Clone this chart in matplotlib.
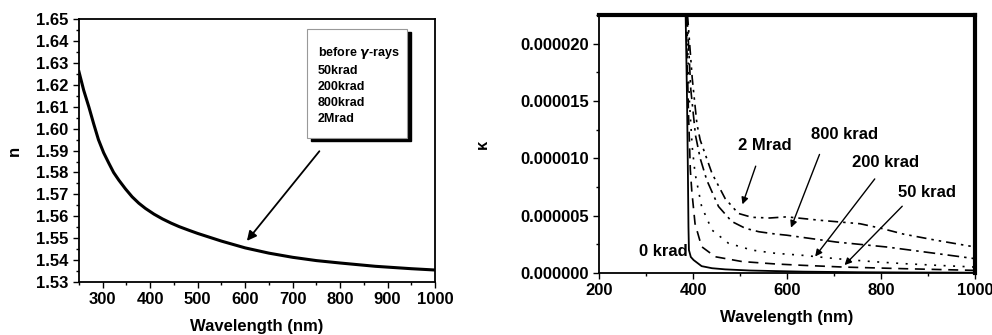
import matplotlib.pyplot as plt
from matplotlib.patches import Rectangle
from matplotlib.ticker import MultipleLocator, FormatStrFormatter

plt.rcParams["font.family"] = ["Liberation Sans", "DejaVu Sans"]
plt.rcParams["font.weight"] = "bold"

# left panel: refractive index n
n_wl = [250, 260, 271, 281, 291, 302, 313, 323, 334, 348, 362, 376, 390, 408,
        426, 444, 461, 482, 500, 550, 600, 650, 700, 750, 800, 874, 950, 1000]
n_val = [1.626, 1.6175, 1.6098, 1.6022, 1.5950, 1.589, 1.5842, 1.580, 1.5765,
         1.5725, 1.5689, 1.566, 1.5636, 1.5610, 1.5588, 1.5569, 1.5553, 1.5536,
         1.5522, 1.5487, 1.5456, 1.5432, 1.5413, 1.5398, 1.5387, 1.5372,
         1.5361, 1.5355]
legend_labels = ["before $\\gamma$-rays", "50krad", "200krad", "800krad", "2Mrad"]

# right panel: extinction coefficient kappa (in units of 1e-6)
k0_wl = [384, 387, 389, 390, 391, 395, 401, 418, 440, 468, 520, 575, 634, 750, 850, 1000]
k0_val = [22.5, 15.0, 8.0, 4.0, 2.0, 1.4, 1.13, 0.6, 0.42, 0.32, 0.22, 0.17, 0.12, 0.07, 0.05, 0.03]

k50_wl = [385, 390, 394, 397, 404, 418, 447, 504, 575, 634, 720, 847, 1000]
k50_val = [22.5, 14.0, 9.0, 7.2, 4.3, 2.3, 1.42, 1.0, 0.79, 0.67, 0.52, 0.38, 0.23]

k200_wl = [386, 392, 398, 404, 418, 440, 475, 525, 575, 634, 705, 780, 847, 920, 1000]
k200_val = [22.5, 15.0, 11.0, 8.7, 5.8, 3.75, 2.6, 2.0, 1.72, 1.54, 1.25, 1.0, 0.82, 0.67, 0.52]

k800_wl = [387, 395, 405, 415, 429, 454, 482, 511, 540, 575, 599, 705, 812, 918, 1000]
k800_val = [22.5, 16.0, 12.0, 10.0, 8.1, 5.8, 4.5, 3.9, 3.6, 3.4, 3.3, 2.7, 2.27, 1.7, 1.25]

k2m_wl = [388, 398, 408, 415, 440, 468, 496, 525, 563, 599, 670, 755, 800, 847, 918, 1000]
k2m_val = [22.5, 17.0, 13.0, 11.6, 8.7, 6.5, 5.2, 4.86, 4.8, 4.9, 4.6, 4.3, 3.9, 3.4, 2.85, 2.27]

fig = plt.figure(figsize=(9.92, 3.35), dpi=100)

# ---- left panel
ax1 = fig.add_axes([0.0796, 0.158, 0.359, 0.785])
ax1.plot(n_wl, n_val, color="black", lw=2.2)
ax1.set_xlim(250, 1000)
ax1.set_ylim(1.53, 1.65)
ax1.xaxis.set_major_locator(MultipleLocator(100))
ax1.xaxis.set_minor_locator(MultipleLocator(50))
ax1.yaxis.set_major_locator(MultipleLocator(0.01))
ax1.yaxis.set_minor_locator(MultipleLocator(0.005))
ax1.yaxis.set_major_formatter(FormatStrFormatter("%.2f"))
ax1.set_xlabel("Wavelength (nm)", fontsize=12, fontweight="bold", labelpad=8)
ax1.set_ylabel("n", fontsize=12, fontweight="bold", labelpad=10)

# legend box with black shadow
ax1.add_patch(Rectangle((0.651, 0.537), 0.28, 0.413, transform=ax1.transAxes,
                        facecolor="black", edgecolor="black", zorder=4))
ax1.add_patch(Rectangle((0.640, 0.548), 0.28, 0.413, transform=ax1.transAxes,
                        facecolor="white", edgecolor="#999999", lw=0.8, zorder=5))
ax1.text(0.671, 0.903, "\n".join(legend_labels), transform=ax1.transAxes,
         fontsize=9, fontweight="bold", va="top", ha="left",
         linespacing=1.45, zorder=6)
ax1.annotate("", xy=(600, 1.5478), xytext=(760, 1.5907),
             arrowprops=dict(arrowstyle="-|>", color="black", lw=1.3,
                             mutation_scale=14))

# ---- right panel
ax2 = fig.add_axes([0.604, 0.185, 0.379, 0.770])
ax2.plot(k0_wl, [v * 1e-6 for v in k0_val], color="black", lw=1.3, ls="-")
ax2.plot(k50_wl, [v * 1e-6 for v in k50_val], color="black", lw=1.2,
         ls=(0, (6, 4)))
ax2.plot(k200_wl, [v * 1e-6 for v in k200_val], color="black", lw=1.2,
         ls=(0, (1.2, 4.5)))
ax2.plot(k800_wl, [v * 1e-6 for v in k800_val], color="black", lw=1.2,
         ls=(0, (7, 3, 1.5, 3)))
ax2.plot(k2m_wl, [v * 1e-6 for v in k2m_val], color="black", lw=1.2,
         ls=(0, (6, 3, 1.5, 3, 1.5, 3)))
ax2.set_xlim(200, 1000)
ax2.set_ylim(0, 2.25e-5)
ax2.xaxis.set_major_locator(MultipleLocator(200))
ax2.xaxis.set_minor_locator(MultipleLocator(100))
ax2.yaxis.set_major_locator(MultipleLocator(5e-6))
ax2.yaxis.set_minor_locator(MultipleLocator(2.5e-6))
ax2.yaxis.set_major_formatter(FormatStrFormatter("%.6f"))
ax2.set_xlabel("Wavelength (nm)", fontsize=12, fontweight="bold", labelpad=8)
ax2.set_ylabel("\u03ba", fontsize=12, fontweight="bold", labelpad=22)
ax2.spines["top"].set_linewidth(3)
ax2.spines["right"].set_linewidth(3)

ann = dict(arrowstyle="-|>", color="black", lw=1.0, mutation_scale=10)
fs = 12
ax2.text(553, 11.1e-6, "2 Mrad", ha="center", va="center", fontsize=fs, fontweight="bold")
ax2.annotate("", xy=(503, 5.76e-6), xytext=(535, 9.55e-6), arrowprops=ann)
ax2.text(723, 12.1e-6, "800 krad", ha="center", va="center", fontsize=fs, fontweight="bold")
ax2.annotate("", xy=(606, 3.73e-6), xytext=(671, 10.57e-6), arrowprops=ann)
ax2.text(810, 9.64e-6, "200 krad", ha="center", va="center", fontsize=fs, fontweight="bold")
ax2.annotate("", xy=(656, 1.25e-6), xytext=(790, 8.4e-6), arrowprops=ann)
ax2.text(897, 6.99e-6, "50 krad", ha="center", va="center", fontsize=fs, fontweight="bold")
ax2.annotate("", xy=(718, 0.52e-6), xytext=(849, 6.0e-6), arrowprops=ann)
ax2.text(336, 1.92e-6, "0 krad", ha="center", va="center", fontsize=fs, fontweight="bold")

for ax in (ax1, ax2):
    ax.tick_params(which="both", direction="out", top=False, right=False,
                   labelsize=12, width=1.0)
    ax.tick_params(which="major", length=4)
    ax.tick_params(which="minor", length=2.5)
    for lbl in ax.get_xticklabels() + ax.get_yticklabels():
        lbl.set_fontweight("bold")
for side in ("left", "bottom"):
    ax2.spines[side].set_linewidth(1.3)
for side in ax1.spines:
    ax1.spines[side].set_linewidth(1.3)

fig.savefig("out.png", dpi=100)
